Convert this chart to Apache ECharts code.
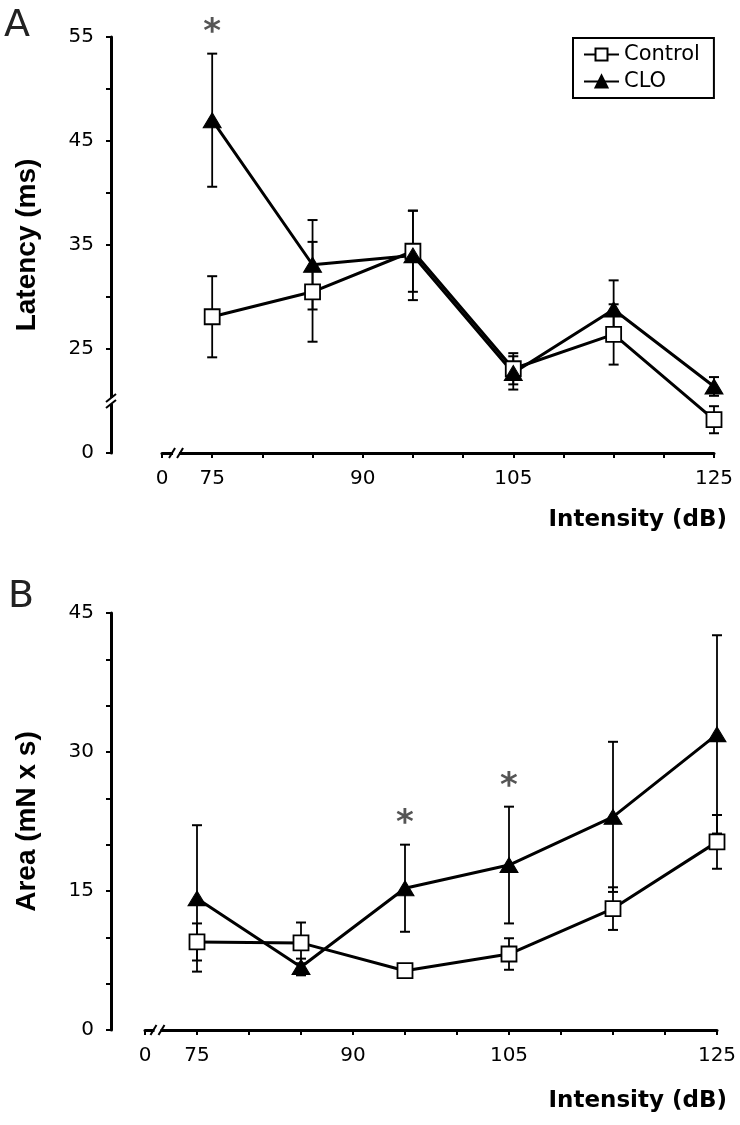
<!DOCTYPE html>
<html><head><meta charset="utf-8">
<script src="https://cdn.jsdelivr.net/npm/echarts@6/dist/echarts.min.js"></script>
<style>html,body{margin:0;padding:0;background:#fff}#c{width:740px;height:1125px}</style>
</head><body><div id="c"></div>
<script>
// ---- data ----
const intensity = [75, 85, 95, 105, 115, 125];
const latencyControl    = [28.1, 30.5, 34.4, 23.1, 26.4, 18.2];
const latencyControlErr = [3.9, 4.8, 3.9, 1.5, 2.9, 1.3];
const latencyCLO        = [47.0, 33.1, 34.0, 22.7, 28.8, 21.4];
const latencyCLOErr     = [6.4, 4.3, 4.3, 1.6, 2.8, 0.9];
const areaControl       = [9.5, 9.4, 6.4, 8.2, 13.1, 20.3];
const areaControlErr    = [2.0, 2.2, 0.4, 1.7, 2.3, 2.9];
const areaCLO           = [14.2, 6.8, 15.3, 17.8, 23.0, 31.9];
const areaCLOErr        = [7.9, 0.9, 4.7, 6.3, 8.1, 10.7];
const latencySig = [75];        // significant CLO vs Control
const areaSig = [95, 105];
// axis labels (broken axes: first tick stands for 0)
const xLabelValues = [70, 75, 90, 105, 125];
const xLabelTexts  = ['0', '75', '90', '105', '125'];
const xTickValues  = [70, 75, 80, 85, 90, 95, 100, 105, 110, 115, 120, 125];
const latLabelValues = [15, 25, 35, 45, 55];
const latLabelTexts  = ['0', '25', '35', '45', '55'];
const latTickValues  = [15, 25, 30, 35, 40, 45, 50, 55];
const areaLabelValues = [0, 15, 30, 45];

const FONT = 'DejaVu Sans';
const chart = echarts.init(document.getElementById('c'), null, {renderer: 'canvas'});

const axisLineStyle = {show: true, lineStyle: {color: '#000', width: 3}};
const tickStyle = {show: true, length: 5, lineStyle: {color: '#000', width: 2}};
const labelStyle = {fontFamily: FONT, fontSize: 20, color: '#000'};

function xAxis(grid) {
  return {
    type: 'value', gridIndex: grid, min: 70, max: 125, interval: 5,
    axisLine: axisLineStyle, splitLine: {show: false},
    axisTick: Object.assign({customValues: xTickValues}, tickStyle),
    axisLabel: Object.assign({margin: 16, customValues: xLabelValues,
      formatter: v => xLabelTexts[xLabelValues.indexOf(v)] ?? ''}, labelStyle)
  };
}

function lineSeries(name, xi, vals, isCLO) {
  return {
    name, type: 'line', xAxisIndex: xi, yAxisIndex: xi, z: 5,
    data: intensity.map((x, i) => [x, vals[i]]),
    symbol: isCLO ? 'triangle' : 'rect',
    symbolSize: isCLO ? [18, 15] : 15,
    lineStyle: {color: '#000', width: 3},
    itemStyle: isCLO ? {color: '#000', borderColor: '#000', borderWidth: 1}
                     : {color: '#fff', borderColor: '#000', borderWidth: 1.8},
    emphasis: {disabled: true}
  };
}

function errSeries(xi, vals, errs) {
  return {
    type: 'custom', xAxisIndex: xi, yAxisIndex: xi, z: 2, silent: true,
    data: intensity.map((x, i) => [x, vals[i] - errs[i], vals[i] + errs[i]]),
    encode: {x: 0, y: [1, 2]},
    renderItem(params, api) {
      const x = api.value(0);
      const lo = api.coord([x, api.value(1)]);
      const hi = api.coord([x, api.value(2)]);
      const w = 5;
      return {type: 'group', children: [
        {type: 'line', shape: {x1: lo[0], y1: lo[1], x2: hi[0], y2: hi[1]}, style: {stroke: '#000', lineWidth: 1.8}},
        {type: 'line', shape: {x1: hi[0] - w, y1: hi[1], x2: hi[0] + w, y2: hi[1]}, style: {stroke: '#000', lineWidth: 2}},
        {type: 'line', shape: {x1: lo[0] - w, y1: lo[1], x2: lo[0] + w, y2: lo[1]}, style: {stroke: '#000', lineWidth: 2}}
      ]};
    }
  };
}

function sigSeries(xi, sig, vals, errs) {
  return {
    type: 'scatter', xAxisIndex: xi, yAxisIndex: xi, silent: true, z: 6,
    symbol: 'circle', symbolSize: 0,
    data: sig.map(x => { const i = intensity.indexOf(x); return [x, vals[i] + errs[i]]; }),
    label: {show: true, position: 'top', distance: 3, formatter: '*',
      fontFamily: FONT, fontWeight: 'bold', fontSize: 34, color: '#2a2a2a'}
  };
}

const titleText = {fontFamily: FONT, fontWeight: 'bold', fontSize: 23, color: '#000'};

chart.setOption({
  animation: false,
  backgroundColor: '#fff',
  title: [
    {text: 'A', left: 4, top: 7, padding: 0, textStyle: {fontFamily: FONT, fontSize: 38, fontWeight: 'normal', color: '#222'}},
    {text: 'B', left: 8, top: 578, padding: 0, textStyle: {fontFamily: FONT, fontSize: 38, fontWeight: 'normal', color: '#222'}},
    {text: 'Intensity (dB)', right: 13, top: 509, padding: 0, textStyle: titleText},
    {text: 'Intensity (dB)', right: 13, top: 1090, padding: 0, textStyle: titleText}
  ],
  legend: {
    data: ['Control', 'CLO'], orient: 'vertical', left: 573, top: 38,
    padding: [6, 14, 6, 10], itemGap: 6, itemWidth: 35, itemHeight: 15,
    borderColor: '#000', borderWidth: 2, borderRadius: 0, selectedMode: false,
    textStyle: {fontFamily: FONT, fontSize: 21, color: '#000'}
  },
  grid: [
    {left: 162, right: 26, top: 37, height: 416},
    {left: 145, right: 23, top: 613, height: 417}
  ],
  xAxis: [xAxis(0), xAxis(1)],
  yAxis: [
    {type: 'value', gridIndex: 0, min: 15, max: 55, interval: 5, offset: 51,
     name: 'Latency (ms)', nameLocation: 'middle', nameGap: 70,
     nameTextStyle: {fontFamily: 'Liberation Sans', fontWeight: 'bold', fontSize: 28, color: '#000'},
     axisLine: axisLineStyle, splitLine: {show: false},
     axisTick: Object.assign({customValues: latTickValues}, tickStyle),
     axisLabel: Object.assign({margin: 17, customValues: latLabelValues,
       formatter: v => latLabelTexts[latLabelValues.indexOf(v)] ?? ''}, labelStyle)},
    {type: 'value', gridIndex: 1, min: 0, max: 45, interval: 5, offset: 34,
     name: 'Area (mN x s)', nameLocation: 'middle', nameGap: 70,
     nameTextStyle: {fontFamily: 'Liberation Sans', fontWeight: 'bold', fontSize: 28, color: '#000'},
     axisLine: axisLineStyle, splitLine: {show: false},
     axisTick: tickStyle,
     axisLabel: Object.assign({margin: 17, customValues: areaLabelValues}, labelStyle)}
  ],
  series: [
    errSeries(0, latencyControl, latencyControlErr),
    errSeries(0, latencyCLO, latencyCLOErr),
    lineSeries('Control', 0, latencyControl, false),
    lineSeries('CLO', 0, latencyCLO, true),
    sigSeries(0, latencySig, latencyCLO, latencyCLOErr),
    errSeries(1, areaControl, areaControlErr),
    errSeries(1, areaCLO, areaCLOErr),
    lineSeries('Control', 1, areaControl, false),
    lineSeries('CLO', 1, areaCLO, true),
    sigSeries(1, areaSig, areaCLO, areaCLOErr)
  ]
});

// axis-break marks, placed through the library's own scales
function breakV(x, y) {
  return [
    {type: 'rect', z: 100, shape: {x: x - 5, y: y - 3, width: 10, height: 6}, style: {fill: '#fff'}},
    {type: 'line', z: 101, shape: {x1: x - 5, y1: y + 1, x2: x + 5, y2: y - 7}, style: {stroke: '#000', lineWidth: 2}},
    {type: 'line', z: 101, shape: {x1: x - 5, y1: y + 7, x2: x + 5, y2: y - 1}, style: {stroke: '#000', lineWidth: 2}}
  ];
}
function breakH(x, y) {
  return [
    {type: 'rect', z: 100, shape: {x: x - 3, y: y - 5, width: 6, height: 10}, style: {fill: '#fff'}},
    {type: 'line', z: 101, shape: {x1: x - 7, y1: y + 5, x2: x - 1, y2: y - 5}, style: {stroke: '#000', lineWidth: 2}},
    {type: 'line', z: 101, shape: {x1: x + 1, y1: y + 5, x2: x + 7, y2: y - 5}, style: {stroke: '#000', lineWidth: 2}}
  ];
}
const yb = chart.convertToPixel({gridIndex: 0}, [70, 20]);
const xbA = chart.convertToPixel({gridIndex: 0}, [71.4, 15]);
const xbB = chart.convertToPixel({gridIndex: 1}, [71.2, 0]);
chart.setOption({graphic: [].concat(breakV(yb[0] - 51, yb[1]), breakH(xbA[0], xbA[1]), breakH(xbB[0], xbB[1]))});
</script></body></html>
